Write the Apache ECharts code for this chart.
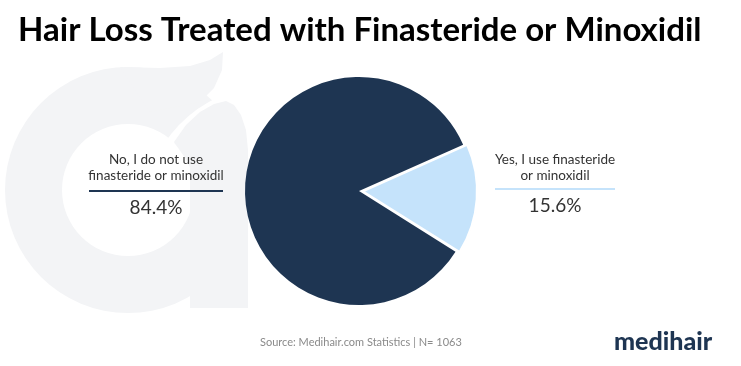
<!DOCTYPE html>
<html>
<head>
<meta charset="utf-8">
<script src="https://cdn.jsdelivr.net/npm/echarts@6/dist/echarts.min.js"></script>
<style>html,body{margin:0;padding:0;background:#fff;}#c{width:741px;height:366px;}</style>
</head>
<body>
<div id="c"></div>
<script>
var categories = ["Yes, I use finasteride\nor minoxidil", "No, I do not use\nfinasteride or minoxidil"];
var values = [15.6, 84.4];
var sliceColors = ["#c5e3fb", "#1e3552"];
var titleText = "Hair Loss Treated with Finasteride or Minoxidil";
var sourceText = "Source: Medihair.com Statistics | N= 1063";
var brandText = "medihair";

var labelCenterX = [555, 156];
var labelTopY = [152, 152];
var lineY = [189, 191];
var lineHalfW = [60, 67];

var chart = echarts.init(document.getElementById('c'), null, {renderer: 'canvas'});
var wm = '#f3f4f6';
var graphics = [
  {type: 'sector', z: -10, shape: {cx: 128, cy: 190, r: 123, r0: 66, startAngle: 0, endAngle: Math.PI * 2}, style: {fill: wm}},
  {type: 'polygon', z: -10, shape: {points: [[120,67],[160,68],[190,66],[210,60],[223,52],[222,70],[214,88],[200,102],[150,112]]}, style: {fill: wm}},
  {type: 'bezierCurve', z: -9, shape: {x1: 160, y1: 158, cpx1: 185, cpy1: 112, x2: 232, y2: 96}, style: {fill: null, stroke: '#fff', lineWidth: 8}},
  {type: 'polygon', z: -8, shape: {points: [[190,308],[248,308],[248,150],[246,130],[241,115],[234,105],[226,101],[214,104],[200,112],[186,125],[174,142],[190,165]]}, style: {fill: wm}},
  {type: 'text', left: 260, top: 337, style: {text: sourceText, font: '11px Lato', fill: '#8a8a8a'}},
  {type: 'text', left: 614, top: 329, style: {text: brandText, font: '900 25px Lato', fill: '#1e3552'}}
];
categories.forEach(function (name, i) {
  var cx = labelCenterX[i];
  graphics.push({type: 'text', x: cx, y: labelTopY[i], style: {text: name, font: '13.5px Lato', fill: '#333', textAlign: 'center', lineHeight: 16}});
  graphics.push({type: 'line', shape: {x1: cx - lineHalfW[i], y1: lineY[i], x2: cx + lineHalfW[i], y2: lineY[i]}, style: {stroke: sliceColors[i], lineWidth: 2}});
  graphics.push({type: 'text', x: cx, y: lineY[i] + 7, style: {text: values[i].toFixed(1) + '%', font: '19px Lato', fill: '#333', textAlign: 'center'}});
});

chart.setOption({
  backgroundColor: '#fff',
  animation: false,
  title: {
    text: titleText, left: 13, top: 9,
    textStyle: {fontFamily: 'Lato', fontWeight: 'bold', fontSize: 33, color: '#000'}
  },
  graphic: graphics,
  series: [{
    type: 'pie',
    center: [359, 191],
    radius: 114,
    startAngle: 24,
    clockwise: true,
    selectedMode: 'single',
    selectedOffset: 4,
    data: categories.map(function (n, i) {
      return {
        name: n, value: values[i], selected: i === 0,
        itemStyle: {color: sliceColors[i], borderColor: '#fff', borderWidth: i === 0 ? 2 : 0}
      };
    }),
    label: {show: false},
    labelLine: {show: false},
    emphasis: {disabled: true}
  }]
});
</script>
</body>
</html>
